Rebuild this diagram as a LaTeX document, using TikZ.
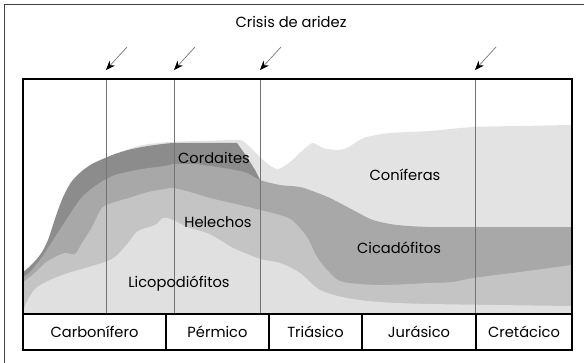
\documentclass[tikz,border=0pt]{standalone}
\usepackage{fontspec}
\setmainfont{Poppins}
\usetikzlibrary{arrows.meta}
\definecolor{conifera}{gray}{0.89}
\definecolor{cordaite}{gray}{0.55}
\definecolor{cicadofito}{gray}{0.66}
\definecolor{helecho}{gray}{0.77}
\definecolor{licopodio}{gray}{0.88}
\tikzset{
    >=Stealth,
    rotulo/.style={inner sep=0pt,font=\fontsize{11}{13}\selectfont},
    periodo/.style={inner sep=0pt,font=\fontsize{11}{13}\selectfont},
    crisis/.style={draw=black!55,line width=0.5pt,-{Stealth[black,length=7pt,width=5.5pt]}},
    limite/.style={draw=black!55,line width=0.7pt},
    marco/.style={draw=black,line width=1.6pt}
}

\begin{document}
\begin{tikzpicture}[x=0.75pt,y=-0.75pt]
    \useasboundingbox (0,0) rectangle (584,363);
    \draw[black!75,line width=0.7pt] (584,4) -- (4,4) -- (4,363);

    % capas
    \fill[conifera] plot[smooth,tension=0.5] coordinates {(120,152) (143,145) (170,142) (200,141) (235,140) (243,141) (252,149) (263,160) (277,169) (290,162) (303,150) (313,143) (323,148) (337,150) (347,148) (358,141) (367,137) (390,133) (430,131) (473,127) (520,126) (571,125)} -- (571,313) -- (120,313) -- cycle;
    \fill[cordaite] plot[smooth,tension=0.5] coordinates {(23,272) (28,268) (35,261) (42,252) (48,240) (53,225) (58,210) (64,195) (72,181) (82,171) (92,164) (105,158) (115,154) (128,150) (142,147) (155,145) (173,143) (200,143) (237,143)} -- (247,157) -- (255,170) -- (260,180) -- (260,313) -- (23,313) -- cycle;
    \fill[cicadofito] plot[smooth,tension=0.5] coordinates {(23,277) (30,272) (42,257) (55,237) (68,217) (82,197) (98,184) (115,175) (142,169) (165,166) (173,164) (195,164) (217,167) (235,170) (247,173) (260,180) (280,185) (300,187) (315,192) (330,198) (353,210) (373,220) (397,225) (430,227) (473,227) (520,227) (571,227)} -- (571,313) -- (23,313) -- cycle;
    \fill[helecho] plot[smooth,tension=0.5] coordinates {(23,282) (30,277) (38,270) (45,263) (55,257) (65,253) (75,254) (82,243) (92,227) (102,208) (115,202) (132,197) (148,192) (165,189) (173,188) (190,192) (210,198) (240,205) (260,210) (280,215) (293,221) (307,237) (317,257) (330,273) (343,282) (380,285) (430,283) (453,282) (473,278) (520,272) (571,265)} -- (571,313) -- (23,313) -- cycle;
    \fill[licopodio] plot[smooth,tension=0.5] coordinates {(23,313) (25,306) (30,296) (36,288) (48,281) (65,274) (82,269) (105,262) (115,257) (122,250) (128,243) (138,231) (155,225) (163,218) (173,220) (187,227) (207,233) (220,240) (233,248) (245,253) (260,259) (280,263) (300,273) (320,290) (347,298) (380,302) (430,304) (571,306)} -- (571,313) -- cycle;

    % crisis de aridez
    \node[rotulo] (titulo) at (291,22) {Crisis de aridez};
    \foreach \x/\n in {106/a,174/b,260/c,475/d} {
        \coordinate (arr\n) at (\x+21,47);
        \coordinate (pie\n) at (\x,70);
        \coordinate (top\n) at (\x,79);
        \coordinate (bot\n) at (\x,313);
        \draw[crisis] (arr\n) -- (pie\n);
        \draw[limite] (top\n) -- (bot\n);
    }

    \node[rotulo] (cordaites) at (214,158) {Cordaites};
    \node[rotulo] (coniferas) at (405,175) {Coníferas};
    \node[rotulo] (helechos) at (218,222) {Helechos};
    \node[rotulo] (cicadofitos) at (399,248) {Cicadófitos};
    \node[rotulo] (licopodios) at (179,284) {Licopodiófitos};

    % tabla de periodos
    \draw[marco] (23,79) rectangle (572,350);
    \draw[marco] (23,314) -- (572,314);
    \foreach \x in {166,269,362,476}
        \draw[line width=1.1pt] (\x,314) -- (\x,350);
    \node[periodo] (carbonifero) at (94.5,332) {Carbonífero};
    \node[periodo] (permico) at (217.5,332) {Pérmico};
    \node[periodo] (triasico) at (315.5,332) {Triásico};
    \node[periodo] (jurasico) at (419,332) {Jurásico};
    \node[periodo] (cretacico) at (524,332) {Cretácico};
\end{tikzpicture}
\end{document}
